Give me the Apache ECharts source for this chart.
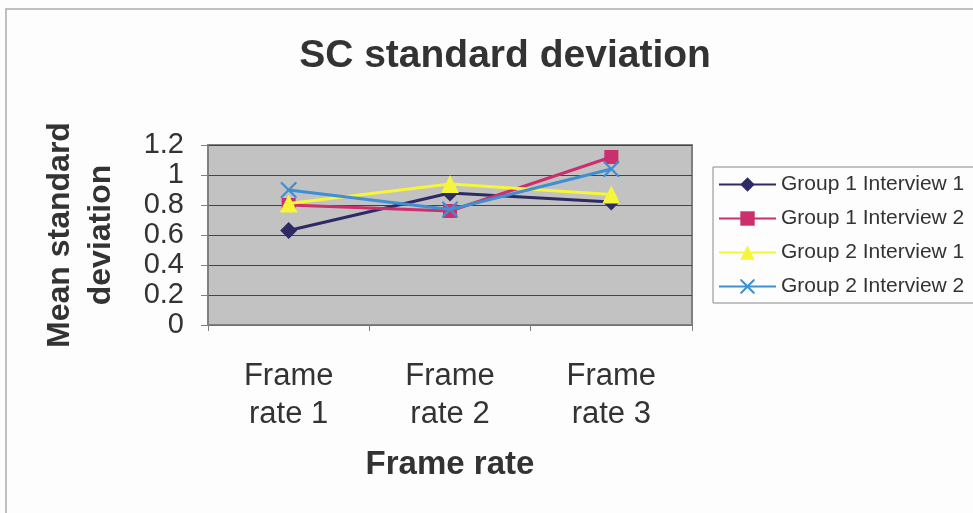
<!DOCTYPE html>
<html><head><meta charset="utf-8">
<script src="https://cdn.jsdelivr.net/npm/echarts@6/dist/echarts.min.js"></script>
<style>html,body{margin:0;padding:0;background:#fdfdfd}#c{width:973px;height:513px}</style>
</head><body><div id="c"></div>
<script>
const categories = ['Frame\nrate 1', 'Frame\nrate 2', 'Frame\nrate 3'];
const g1i1 = [0.63, 0.88, 0.82];
const g1i2 = [0.80, 0.76, 1.12];
const g2i1 = [0.81, 0.94, 0.87];
const g2i2 = [0.90, 0.77, 1.04];
const seriesNames = ['Group 1 Interview 1', 'Group 1 Interview 2', 'Group 2 Interview 1', 'Group 2 Interview 2'];
const colors = ['#2e2a66', '#cc2f6e', '#f5f53a', '#3f8fd2'];
const symbols = ['diamond', 'rect', 'triangle', 'path://M0,0 L2,0 L10,8 L18,0 L20,0 L20,2 L12,10 L20,18 L20,20 L18,20 L10,12 L2,20 L0,20 L0,18 L8,10 L0,2 Z'];
const symbolSizes = [17, 14, 18, 16];
const values = [g1i1, g1i2, g2i1, g2i2];

const chart = echarts.init(document.getElementById('c'));
const font = 'Arial, "Liberation Sans", sans-serif';
chart.setOption({
  animation: false,
  backgroundColor: '#fdfdfd',
  textStyle: { fontFamily: font },
  title: {
    text: 'SC standard deviation', left: 500, top: 32, textAlign: 'center',
    textStyle: { fontSize: 39, fontWeight: 'bold', color: '#333', fontFamily: font }
  },
  graphic: [
    { type: 'rect', shape: { x: 6, y: 9, width: 980, height: 520 }, style: { fill: 'none', stroke: '#aaa', lineWidth: 1.5 }, silent: true },
    { type: 'rect', shape: { x: 713, y: 167, width: 280, height: 136 }, style: { fill: '#fdfdfd', stroke: '#888', lineWidth: 1 }, z: 0, silent: true }
  ],
  legend: {
    left: 718, top: 174, padding: 0, orient: 'vertical', itemGap: 13, itemWidth: 57, itemHeight: 18,
    data: seriesNames,
    textStyle: { fontSize: 21, color: '#333', fontFamily: font },
    z: 5
  },
  grid: { left: 208, top: 145, width: 484, height: 180, show: true, backgroundColor: '#c2c2c2', borderColor: '#808080', borderWidth: 2 },
  xAxis: {
    type: 'category', data: categories, boundaryGap: true,
    axisLine: { lineStyle: { color: '#808080', width: 1.5 } },
    axisTick: { show: true, length: 6, lineStyle: { color: '#808080' } },
    axisLabel: { fontSize: 31, color: '#333', lineHeight: 38, margin: 32, fontFamily: font },
    name: 'Frame rate', nameLocation: 'middle', nameGap: 123,
    nameTextStyle: { fontSize: 33, fontWeight: 'bold', color: '#333', fontFamily: font }
  },
  yAxis: {
    type: 'value', min: 0, max: 1.2, interval: 0.2,
    axisLine: { show: true, lineStyle: { color: '#808080', width: 1.5 } },
    axisTick: { show: true, length: 7, lineStyle: { color: '#808080' } },
    splitLine: { lineStyle: { color: '#444', width: 1 } },
    axisLabel: { fontSize: 29, color: '#333', margin: 24, fontFamily: font, formatter: v => String(Math.round(v * 10) / 10) },
    name: 'Mean standard\ndeviation', nameLocation: 'middle', nameGap: 86,
    nameTextStyle: { fontSize: 32, fontWeight: 'bold', color: '#333', lineHeight: 41, fontFamily: font }
  },
  series: seriesNames.map((n, i) => ({
    name: n, type: 'line', data: values[i],
    symbol: symbols[i], symbolSize: symbolSizes[i],
    lineStyle: { color: colors[i], width: 3 },
    itemStyle: { color: colors[i] },
    z: 3 + i
  }))
});
</script></body></html>
